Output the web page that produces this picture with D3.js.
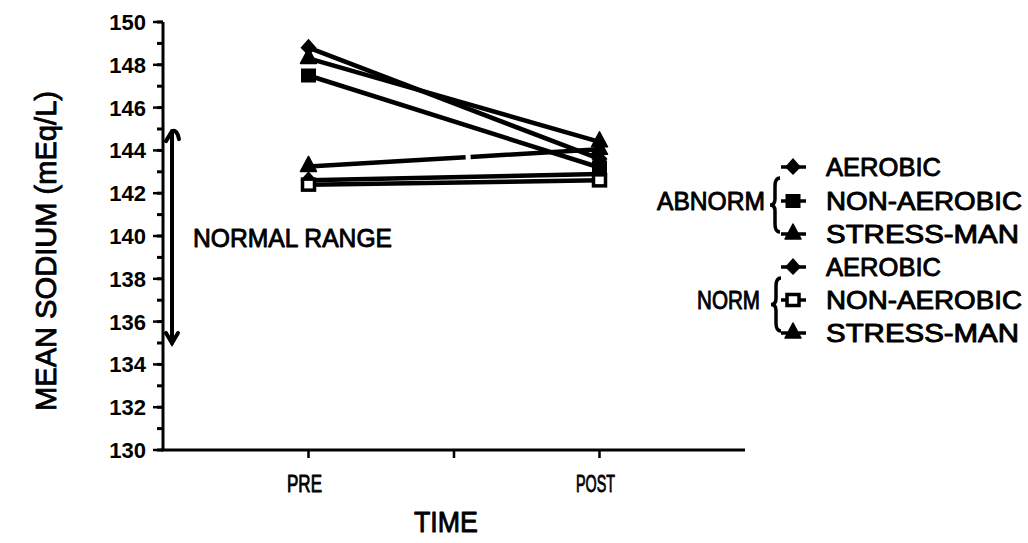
<!DOCTYPE html>
<html>
<head>
<meta charset="utf-8">
<script src="https://cdn.jsdelivr.net/npm/d3@7"></script>
<style>
  html, body { margin: 0; padding: 0; background: #fff; }
  svg { display: block; }
  text { font-family: "Liberation Sans", Arial, Helvetica, sans-serif; fill: #000; }
  text.heavy { stroke: #000; stroke-width: 0.9px; stroke-linejoin: round; }
</style>
</head>
<body>
<svg id="chart" width="1028" height="543"></svg>
<script>
// Time points and y-axis ticks
const timePoints = ["PRE", "POST"];
const yTicks = [130, 132, 134, 136, 138, 140, 142, 144, 146, 148, 150];

// Series: group, program, marker, PRE value, POST value
const seriesNames = ["AEROBIC", "NON-AEROBIC", "STRESS-MAN", "AEROBIC", "NON-AEROBIC", "STRESS-MAN"];
const seriesGroups = ["ABNORM", "ABNORM", "ABNORM", "NORM", "NORM", "NORM"];
const seriesMarkers = ["diamond", "square", "triangle", "diamond", "openSquare", "triangle"];
const preValues  = [148.8, 147.5, 148.3, 142.6, 142.4, 143.25];
const postValues = [143.6, 143.2, 144.4, 142.9, 142.6, 144.05];

// Normal range shown by the double arrow
const normalRange = [135, 144.9];

const svg = d3.select("#chart");

const x = d3.scaleLinear().domain([0, 4]).range([163, 745]);
const xPos = { PRE: 1, POST: 3 };
const y = d3.scaleLinear().domain([130, 150]).range([450, 22]);

// ---- Y axis ----
const yAxis = svg.append("g");
yAxis.append("line")
  .attr("x1", x(0)).attr("x2", x(0))
  .attr("y1", y(150)).attr("y2", y(130))
  .attr("stroke", "#000").attr("stroke-width", 3);
yAxis.selectAll("line.minor")
  .data(d3.range(130, 151, 1))
  .join("line")
  .attr("class", "minor")
  .attr("x1", x(0) - 6).attr("x2", x(0))
  .attr("y1", d => y(d)).attr("y2", d => y(d))
  .attr("stroke", "#000").attr("stroke-width", 3);
yAxis.selectAll("line.major")
  .data(yTicks)
  .join("line")
  .attr("class", "major")
  .attr("x1", x(0) - 10).attr("x2", x(0))
  .attr("y1", d => y(d)).attr("y2", d => y(d))
  .attr("stroke", "#000").attr("stroke-width", 2.5);
yAxis.selectAll("text")
  .data(yTicks)
  .join("text")
  .attr("x", x(0) - 17)
  .attr("y", d => y(d) + 8)
  .attr("text-anchor", "end")
  .attr("font-size", 22)
  .attr("font-weight", "bold")
  .text(d => d);

// ---- X axis ----
const xAxis = svg.append("g");
xAxis.append("line")
  .attr("x1", x(0) - 2).attr("x2", x(4))
  .attr("y1", y(130)).attr("y2", y(130))
  .attr("stroke", "#000").attr("stroke-width", 3);
xAxis.selectAll("line.tick")
  .data([1, 2, 3])
  .join("line")
  .attr("class", "tick")
  .attr("x1", d => x(d)).attr("x2", d => x(d))
  .attr("y1", y(130)).attr("y2", y(130) + 8)
  .attr("stroke", "#000").attr("stroke-width", 2.5);
xAxis.selectAll("text")
  .data(timePoints)
  .join("text")
  .attr("class", "heavy")
  .attr("x", d => x(xPos[d]) - 4)
  .attr("y", y(130) + 42)
  .attr("text-anchor", "middle")
  .attr("font-size", 24)
  .attr("textLength", d => d === "PRE" ? 35 : 39)
  .attr("lengthAdjust", "spacingAndGlyphs")
  .text(d => d);

// Axis titles
svg.append("text")
  .attr("class", "heavy")
  .attr("transform", `translate(56, ${(y(150) + y(130)) / 2 + 15}) rotate(-90)`)
  .attr("text-anchor", "middle")
  .attr("font-size", 30)
  .attr("textLength", 320)
  .attr("lengthAdjust", "spacingAndGlyphs")
  .text("MEAN SODIUM (mEq/L)");

svg.append("text")
  .attr("class", "heavy")
  .attr("x", x(2) - 8)
  .attr("y", 532)
  .attr("text-anchor", "middle")
  .attr("font-size", 29)
  .attr("textLength", 64)
  .attr("lengthAdjust", "spacingAndGlyphs")
  .text("TIME");

// ---- Normal range double arrow ----
const ax = x(0) + 9;
const nr = svg.append("g").attr("stroke", "#000").attr("fill", "none")
  .attr("stroke-width", 4).attr("stroke-linecap", "round");
nr.append("line")
  .attr("x1", ax).attr("x2", ax)
  .attr("y1", y(normalRange[1])).attr("y2", y(normalRange[0]));
nr.append("path")
  .attr("d", `M${ax - 6},${y(normalRange[1]) + 10} L${ax},${y(normalRange[1])} Q${ax + 5},${y(normalRange[1]) - 2} ${ax + 7},${y(normalRange[1]) + 8}`);
nr.append("path")
  .attr("d", `M${ax - 6},${y(normalRange[0]) - 10} L${ax},${y(normalRange[0])} L${ax + 6},${y(normalRange[0]) - 10}`);

svg.append("text")
  .attr("class", "heavy")
  .attr("x", 193)
  .attr("y", 247)
  .attr("font-size", 26)
  .attr("textLength", 199)
  .attr("lengthAdjust", "spacingAndGlyphs")
  .text("NORMAL RANGE");

// ---- Marker shapes ----
function drawMarker(g, type, cx, cy) {
  if (type === "diamond") {
    g.append("path")
      .attr("d", `M${cx},${cy - 9} L${cx + 8},${cy} L${cx},${cy + 8} L${cx - 8},${cy} Z`)
      .attr("fill", "#000");
  } else if (type === "square") {
    g.append("rect")
      .attr("x", cx - 7.5).attr("y", cy - 7).attr("width", 15).attr("height", 14)
      .attr("fill", "#000");
  } else if (type === "openSquare") {
    g.append("rect")
      .attr("x", cx - 6).attr("y", cy - 5.5).attr("width", 12).attr("height", 11)
      .attr("fill", "#fff").attr("stroke", "#000").attr("stroke-width", 3.5);
  } else if (type === "triangle") {
    g.append("path")
      .attr("d", `M${cx},${cy - 10} L${cx + 8},${cy + 5} L${cx - 8},${cy + 5} Z`)
      .attr("fill", "#000").attr("stroke", "#000").attr("stroke-width", 1.5)
      .attr("stroke-linejoin", "round");
  }
}

// ---- Series lines ----
const series = seriesNames.map((name, i) => ({
  name, group: seriesGroups[i], marker: seriesMarkers[i],
  values: [preValues[i], postValues[i]]
}));

const line = d3.line()
  .x((d, i) => x(xPos[timePoints[i]]))
  .y(d => y(d));

const plot = svg.append("g");
series.forEach((s, i) => {
  const p = plot.append("path")
    .datum(s.values)
    .attr("d", line)
    .attr("fill", "none")
    .attr("stroke", "#000")
    .attr("stroke-width", 4.5);
  // Normal stress-management line has a small break just past mid-span
  if (s.group === "NORM" && s.marker === "triangle") {
    const L = p.node().getTotalLength();
    p.attr("stroke-dasharray", `${L * 0.54} 5 ${L}`);
  }
});
series.forEach(s => {
  s.values.forEach((v, i) => {
    drawMarker(plot, s.marker, x(xPos[timePoints[i]]), y(v));
  });
});

// ---- Legend ----
const legendRowY = [167, 201, 234, 267, 300, 333];
const lg = svg.append("g");
series.forEach((s, i) => {
  const cy = legendRowY[i];
  lg.append("line")
    .attr("x1", 781).attr("x2", 806)
    .attr("y1", cy).attr("y2", cy)
    .attr("stroke", "#000").attr("stroke-width", 3.5);
  drawMarker(lg, s.marker, 793, cy);
  lg.append("text")
    .attr("class", "heavy")
    .attr("x", 826)
    .attr("y", cy + 9)
    .attr("font-size", 25)
    .attr("textLength", s.name === "AEROBIC" ? 115 : s.name === "NON-AEROBIC" ? 196 : 193)
    .attr("lengthAdjust", "spacingAndGlyphs")
    .text(s.name);
});

// Group labels with braces
const groups = [
  { label: "ABNORM", rows: [0, 2], labelRight: 765, braceX: 775, tl: 108 },
  { label: "NORM", rows: [3, 5], labelRight: 760, braceX: 776, tl: 63 }
];
groups.forEach(gp => {
  const top = legendRowY[gp.rows[0]] + 11;
  const bot = legendRowY[gp.rows[1]] - 2;
  const mid = (top + bot) / 2;
  const bx = gp.braceX;
  lg.append("path")
    .attr("d", `M${bx + 5},${top} Q${bx},${top} ${bx},${top + 8} L${bx},${mid - 6} Q${bx},${mid} ${bx - 5},${mid} Q${bx},${mid} ${bx},${mid + 6} L${bx},${bot - 8} Q${bx},${bot} ${bx + 5},${bot}`)
    .attr("fill", "none").attr("stroke", "#000").attr("stroke-width", 3.5);
  lg.append("text")
    .attr("class", "heavy")
    .attr("x", gp.labelRight)
    .attr("y", legendRowY[gp.rows[0] + 1] + 9)
    .attr("text-anchor", "end")
    .attr("font-size", 25)
    .attr("textLength", gp.tl)
    .attr("lengthAdjust", "spacingAndGlyphs")
    .text(gp.label);
});
</script>
</body>
</html>
